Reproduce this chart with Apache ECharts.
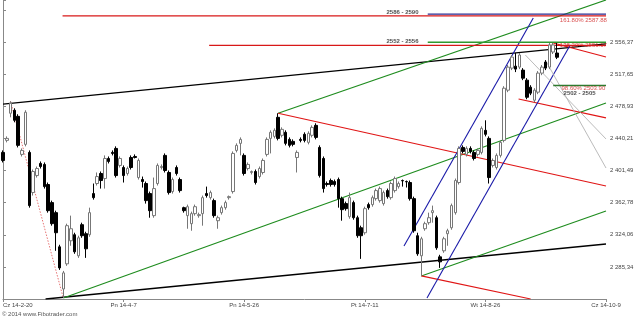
<!DOCTYPE html>
<html><head><meta charset="utf-8">
<script src="https://cdn.jsdelivr.net/npm/echarts@6/dist/echarts.min.js"></script>
<style>html,body{margin:0;padding:0;background:#fff}#c{width:640px;height:320px}</style>
</head><body><div id="c"></div>
<script>
// ---- data ----
const tickLabels = ['Cz 14-2-20','Pn 14-4-7','Pn 14-5-26','Pt 14-7-11','Wt 14-8-26','Cz 14-10-9'];
const barsPerTick = 32;
const sessionCount = 161; // sessions spanned by the time axis
// [open, close, low, high]
const ohlc = [
[2423.3,2413.6,2411.2,2425.7],[2437.8,2440.2,2435.4,2442.6],[2470.5,2482.6,2465.6,2485.0],[2474.1,2462.0,2459.6,2476.5],
[2466.8,2431.8,2429.3,2469.3],[2420.9,2425.7,2418.4,2428.1],[2433.0,2471.7,2430.6,2474.1],[2423.3,2359.2,2356.7,2425.7],
[2374.9,2400.3,2371.3,2402.7],[2395.4,2403.9,2393.0,2406.3],[2410.0,2406.3,2403.9,2412.4],[2408.8,2382.1,2379.7,2411.2],
[2384.6,2353.1,2350.7,2387.0],[2362.8,2337.4,2335.0,2365.2],[2350.7,2326.5,2304.7,2353.1],[2309.5,2284.1,2281.7,2312.0],
[2258.7,2278.1,2247.8,2280.5],[2289.0,2335.0,2286.6,2337.4],[2316.8,2331.3,2310.8,2347.1],[2324.1,2303.5,2301.1,2326.5],
[2298.7,2320.4,2296.2,2322.9],[2336.2,2322.9,2320.4,2338.6],[2325.3,2307.1,2296.2,2327.7],[2324.1,2350.7,2321.6,2356.7],
[2373.7,2368.8,2366.4,2385.8],[2385.8,2394.2,2383.4,2399.1],[2397.9,2389.4,2379.7,2400.3],[2391.8,2416.0,2379.7,2419.7],
[2416.0,2412.4,2410.0,2418.4],[2423.3,2422.1,2419.7,2425.7],[2428.1,2395.4,2393.0,2430.6],[2407.6,2416.0,2405.1,2418.4],
[2405.1,2395.4,2387.0,2407.6],[2397.9,2403.9,2395.4,2406.3],[2417.2,2405.1,2402.7,2419.7],[2418.4,2417.2,2416.0,2420.9],
[2393.0,2413.6,2390.6,2416.0],[2390.6,2388.2,2380.9,2394.2],[2385.8,2365.2,2361.6,2388.2],[2373.7,2353.1,2344.6,2376.1],
[2347.1,2379.7,2344.6,2393.0],[2385.8,2407.6,2383.4,2410.0],[2405.1,2406.3,2402.7,2408.8],[2419.7,2401.5,2399.1,2422.1],
[2399.1,2374.9,2372.5,2401.5],[2376.1,2390.6,2373.7,2393.0],[2405.1,2397.9,2395.4,2407.6],[2390.6,2377.3,2374.9,2393.0],
[2356.7,2353.1,2350.7,2357.9],[2347.1,2357.9,2331.3,2360.4],[2337.4,2349.5,2328.9,2351.9],[2349.5,2357.9,2347.1,2360.4],
[2347.1,2348.3,2344.6,2350.7],[2349.5,2368.8,2335.0,2371.3],[2373.7,2371.3,2368.8,2382.1],[2368.8,2374.9,2366.4,2377.3],
[2365.2,2347.1,2344.6,2367.6],[2341.0,2344.6,2331.3,2347.1],[2350.7,2356.7,2348.3,2359.2],[2356.7,2362.8,2354.3,2365.2],
[2368.8,2370.0,2366.4,2371.3],[2376.1,2422.1,2373.7,2424.5],[2425.7,2431.8,2423.3,2434.2],[2434.2,2439.0,2419.7,2441.4],
[2419.7,2397.9,2395.4,2422.1],[2403.9,2408.8,2401.5,2411.2],[2399.1,2400.3,2396.7,2401.5],[2400.3,2387.0,2384.6,2402.7],
[2394.2,2403.9,2391.8,2406.3],[2399.1,2413.6,2396.7,2416.0],[2420.9,2439.0,2418.4,2441.4],[2440.2,2447.5,2422.1,2449.9],
[2442.6,2449.9,2440.2,2452.3],[2465.6,2440.2,2437.8,2470.5],[2443.9,2451.1,2441.4,2453.5],[2447.5,2434.2,2431.8,2449.9],
[2439.0,2431.8,2429.3,2441.4],[2436.6,2433.0,2430.6,2439.0],[2417.2,2423.3,2399.1,2425.7],[2439.0,2437.8,2435.4,2441.4],
[2445.1,2437.8,2435.4,2447.5],[2435.4,2446.3,2433.0,2448.7],[2443.9,2453.5,2441.4,2455.9],[2455.9,2441.4,2439.0,2458.4],
[2429.3,2395.4,2393.0,2431.8],[2416.0,2379.7,2374.9,2418.4],[2385.8,2384.6,2382.1,2388.2],[2389.4,2384.6,2382.1,2391.8],
[2388.2,2384.6,2382.1,2390.6],[2390.6,2367.6,2356.7,2393.0],[2367.6,2354.3,2341.0,2370.0],[2361.6,2355.5,2353.1,2364.0],
[2345.8,2368.8,2343.4,2374.9],[2362.8,2344.6,2342.2,2365.2],[2344.6,2322.9,2320.4,2347.1],[2332.5,2322.9,2295.0,2335.0],
[2326.5,2355.5,2324.1,2357.9],[2360.4,2356.7,2354.3,2362.8],[2360.4,2368.8,2357.9,2371.3],[2367.6,2377.3,2365.2,2379.7],
[2365.2,2379.7,2362.8,2382.1],[2361.6,2374.9,2359.2,2377.3],[2377.3,2370.0,2367.6,2379.7],[2368.8,2385.8,2366.4,2388.2],
[2377.3,2391.8,2374.9,2394.2],[2382.1,2385.8,2379.7,2388.2],[2389.4,2389.0,2382.1,2390.6],[2388.2,2387.8,2381.0,2389.4],
[2387.0,2367.6,2365.2,2389.4],[2367.6,2328.9,2326.5,2370.0],[2322.9,2301.1,2298.7,2326.5],[2298.7,2319.2,2274.4,2321.6],
[2331.3,2337.4,2328.9,2339.8],[2338.6,2344.6,2336.2,2350.7],[2350.7,2353.1,2338.6,2359.2],[2344.6,2308.3,2305.9,2347.1],
[2297.4,2291.4,2284.1,2299.9],[2304.7,2319.2,2302.3,2321.6],[2325.3,2328.9,2310.8,2331.3],[2332.5,2359.2,2330.1,2361.6],
[2350.7,2389.4,2348.3,2391.8],[2387.0,2428.1,2384.6,2430.6],[2429.3,2424.5,2422.1,2431.8],[2420.9,2428.1,2418.4,2430.6],
[2428.1,2424.5,2422.1,2430.6],[2423.3,2416.0,2413.6,2425.7],[2420.9,2425.7,2418.4,2428.1],[2423.3,2452.3,2420.9,2454.7],
[2449.9,2445.1,2442.6,2462.0],[2440.2,2393.0,2385.8,2442.6],[2407.6,2413.6,2405.1,2416.0],[2405.1,2419.7,2402.7,2422.1],
[2419.7,2435.4,2417.2,2437.8],[2437.8,2500.7,2435.4,2503.1],[2498.3,2526.1,2495.9,2528.6],[2524.9,2538.2,2522.5,2540.7],
[2527.3,2523.7,2520.1,2543.1],[2526.1,2540.7,2523.7,2543.1],[2522.5,2512.8,2510.4,2524.9],[2510.4,2489.8,2487.4,2512.8],
[2501.9,2494.7,2492.3,2504.3],[2486.2,2498.3,2483.8,2500.7],[2495.9,2518.9,2493.5,2521.3],[2518.9,2526.1,2516.4,2528.6],
[2532.2,2524.9,2522.5,2534.6],[2526.1,2552.8,2523.7,2555.2],[2544.3,2552.8,2541.9,2555.2],[2543.1,2538.0,2535.8,2555.2]
];
const lastPrice = 2538.00;
const yMin = 2246.622, yMax = 2607.0, yStep = 38.718;

// trend / fibo lines: [session index, price]
const blackUpper = [[0,2481.6],[160,2554.0]];
const blackLower = [[11.3,2246.62],[160,2312.9]];
const greenUpper = [[73,2470.5],[160,2607.0]];
const greenLower = [[16,2247.8],[160,2482.9]];
const greenMid   = [[111,2274.4],[160,2352.7]];
const redFromHigh = [[73,2470.5],[160,2382.8]];
const redFromLow  = [[111,2274.4],[140,2246.62]];
const redRight    = [[136.8,2487.7],[160,2465.0]];
const redTop      = [[146,2555.2],[160,2538.3]];
const blueUpper  = [[106.4,2310.5],[140.7,2585.3]];
const blueLower  = [[112.5,2247.8],[150.5,2552.8]];
const grayLine1  = [[138.6,2540.7],[160,2439.5]];
const grayLine2  = [[143.9,2534.7],[160,2404.5]];
const redDotted  = [[2,2485.0],[16,2247.8]];
const hBlue2590  = [[112.7,2590.0],[160,2590.0]];
const hRed2588   = [[15.8,2587.88],[160,2587.88]];
const hRed2552   = [[54.7,2552.2],[160,2552.2]];
const hGreen2556 = [[112.7,2556.0],[160,2556.0]];
const hGreen2504 = [[146,2504.0],[160,2504.0]];
// text annotations: [text, session index, price]
const zoneTexts = [['2586 - 2590',106,2592.0],['2552 - 2556',106,2557.0],['2502 - 2505',153,2494.0]];
const fiboTexts = [['161.80% 2587.88',154,2583.0],['138.20% 2551.17',154,2552.0],['98.60% 2503.90',154,2500.5]];
const footer = '© 2014 www.Fibotrader.com';

// ---- chart ----
const cats = Array.from({length: sessionCount}, (_, i) => String(i));
function fmtY(v){
  if (v < 2280 || v > 2560) return '';
  const s = v.toFixed(2).replace('.', ',');
  return s.replace(/^(\d)(\d{3})/, '$1 $2');
}
function seg(data, color, width, type){
  return {type:'line', xAxisIndex:1, data, symbol:'none', silent:true, animation:false,
    lineStyle:{color, width, type: type||'solid'}, z:3};
}
const font = 'Liberation Sans';
function textSeries(items, color, weight){
  return {type:'scatter', xAxisIndex:1, symbolSize:0, silent:true, animation:false, z:5,
    data: items.map(t => ({value:[t[1], t[2]], name:t[0]})),
    label:{show:true, position:'inside', formatter: p => p.name, color, fontSize:6, fontWeight:weight||'normal', fontFamily:font}};
}
const chart = echarts.init(document.getElementById('c'));
chart.setOption({
  animation:false,
  backgroundColor:'#fff',
  grid:{left:0, right:34, top:0, bottom:21, containLabel:false},
  xAxis:[{
    type:'category', data:cats, boundaryGap:false,
    axisLine:{lineStyle:{color:'#888', width:1}},
    axisTick:{interval:barsPerTick-1, length:3, lineStyle:{color:'#888'}},
    axisLabel:{interval:barsPerTick-1, formatter:(v,i)=>tickLabels[Math.round(i/barsPerTick)]||'',
      fontSize:6, color:'#444', fontFamily:font, margin:3, alignMinLabel:'left'},
    splitLine:{show:false}
  },{
    type:'value', min:0, max:sessionCount-1, show:false
  }],
  yAxis:{
    type:'value', position:'right', min:yMin, max:yMax, interval:yStep, scale:true,
    axisLine:{show:true, lineStyle:{color:'#888'}},
    axisTick:{show:true, length:3, lineStyle:{color:'#888'}},
    axisLabel:{formatter:fmtY, fontSize:6, color:'#444', fontFamily:font, margin:4},
    splitLine:{show:false}
  },
  graphic:[{type:'text', left:2, top:311, style:{text:footer, fontSize:6, fill:'#555', fontFamily:font}}],
  series:[
    seg(redDotted,'#e05050',0.8,[1.5,1.5]),
    seg(blackUpper,'#000',1.3), seg(blackLower,'#000',1.3),
    seg(greenUpper,'#1e8c1e',1.2), seg(greenLower,'#1e8c1e',1.2), seg(greenMid,'#1e8c1e',1.2),
    seg(redFromHigh,'#e01515',1.2), seg(redFromLow,'#e01515',1.2), seg(redRight,'#e01515',1.2), seg(redTop,'#e01515',1.2),
    seg(blueUpper,'#1a1aa8',1.1), seg(blueLower,'#1a1aa8',1.1),
    seg(grayLine1,'#aaaaaa',0.8), seg(grayLine2,'#aaaaaa',0.8),
    seg(hRed2588,'#d81818',1.2), seg(hBlue2590,'#2a2a90',1.4),
    seg(hRed2552,'#d81818',1.2), seg(hGreen2556,'#2e9a2e',1.4), seg(hGreen2504,'#2e7a2e',1.6),
    {
      type:'candlestick', data:ohlc, barWidth:3, z:4, animation:false, silent:true,
      itemStyle:{color:'#fff', color0:'#000', borderColor:'#777', borderColor0:'#000', borderWidth:1},
      markLine:{symbol:'none', silent:true, animation:false,
        data:[{yAxis:lastPrice}], lineStyle:{opacity:0},
        label:{position:'end', distance:3, formatter: fmtY(lastPrice), fontSize:6, color:'#333', fontFamily:font,
          backgroundColor:'#fff', borderColor:'#777', borderWidth:1, padding:[2,2]}}
    },
    textSeries(zoneTexts,'#222','bold'),
    textSeries(fiboTexts,'#d02020')
  ]
});
</script></body></html>
